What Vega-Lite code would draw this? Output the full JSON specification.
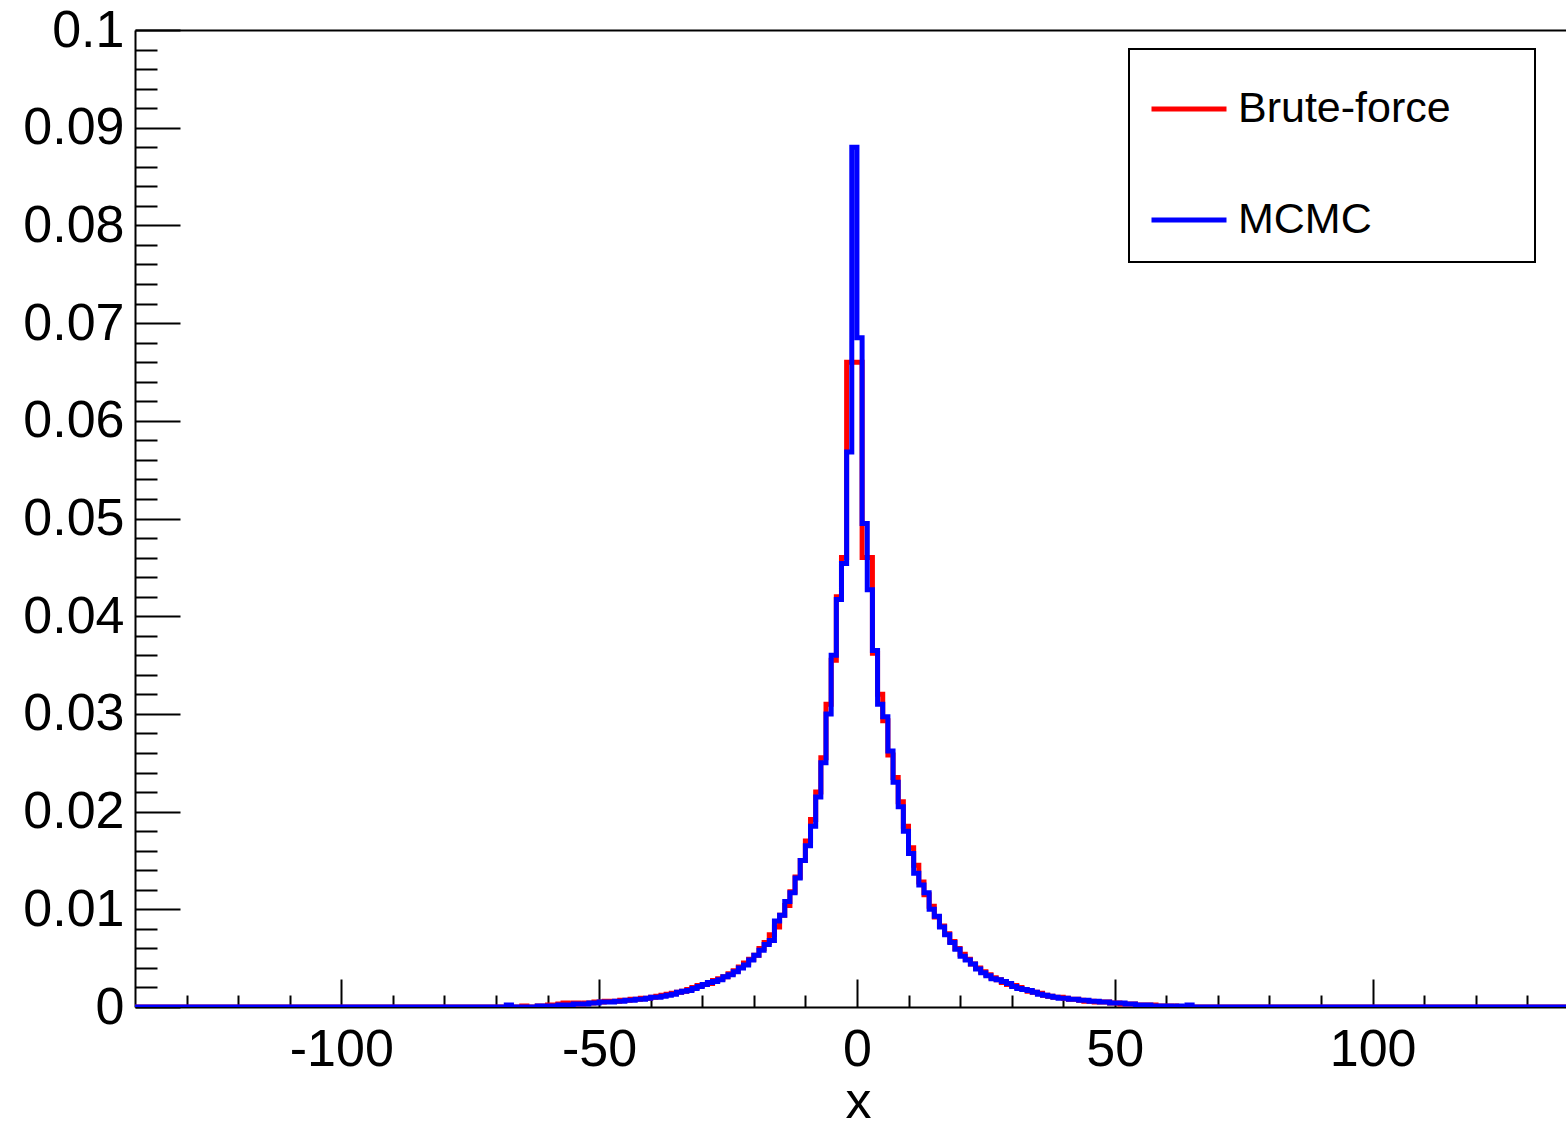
{
  "$schema": "https://vega.github.io/schema/vega-lite/v6.json",
  "width": 1431,
  "height": 977,
  "autosize": "none",
  "padding": {"left": 135, "top": 30, "right": 0, "bottom": 118},
  "background": "white",
  "config": {"view": {"stroke": null}, "font": "Liberation Sans", "legend": {"strokeWidth": 2}},
  "datasets": {
    "bf": [
      {"x": -140, "v": 0}, {"x": -70, "v": 0}, {"x": -65, "v": 0.0001}, {"x": -64, "v": 0}, {"x": -62, "v": 0.0001}, {"x": -61, "v": 0.0001},
      {"x": -60, "v": 0.0002}, {"x": -59, "v": 0.0002}, {"x": -58, "v": 0.0003}, {"x": -57, "v": 0.0004}, {"x": -56, "v": 0.0003},
      {"x": -55, "v": 0.0004}, {"x": -54, "v": 0.0003}, {"x": -53, "v": 0.0004}, {"x": -52, "v": 0.0004}, {"x": -51, "v": 0.0005},
      {"x": -50, "v": 0.0005}, {"x": -49, "v": 0.0006}, {"x": -48, "v": 0.0006}, {"x": -47, "v": 0.0006}, {"x": -46, "v": 0.0007},
      {"x": -45, "v": 0.0007}, {"x": -44, "v": 0.0008}, {"x": -43, "v": 0.0008}, {"x": -42, "v": 0.0009}, {"x": -41, "v": 0.0009},
      {"x": -40, "v": 0.0010}, {"x": -39, "v": 0.0011}, {"x": -38, "v": 0.0012}, {"x": -37, "v": 0.0013}, {"x": -36, "v": 0.0014},
      {"x": -35, "v": 0.0015}, {"x": -34, "v": 0.0016}, {"x": -33, "v": 0.0018}, {"x": -32, "v": 0.0020}, {"x": -31, "v": 0.0022},
      {"x": -30, "v": 0.0023}, {"x": -29, "v": 0.0024}, {"x": -28, "v": 0.0027}, {"x": -27, "v": 0.0029}, {"x": -26, "v": 0.0031},
      {"x": -25, "v": 0.0034}, {"x": -24, "v": 0.0037}, {"x": -23, "v": 0.0041}, {"x": -22, "v": 0.0045}, {"x": -21, "v": 0.0049},
      {"x": -20, "v": 0.0053}, {"x": -19, "v": 0.0060}, {"x": -18, "v": 0.0066}, {"x": -17, "v": 0.0074}, {"x": -16, "v": 0.0082},
      {"x": -15, "v": 0.0094}, {"x": -14, "v": 0.0104}, {"x": -13, "v": 0.0118}, {"x": -12, "v": 0.0133}, {"x": -11, "v": 0.0150},
      {"x": -10, "v": 0.0170}, {"x": -9, "v": 0.0192}, {"x": -8, "v": 0.0220}, {"x": -7, "v": 0.0255}, {"x": -6, "v": 0.0310},
      {"x": -5, "v": 0.0355}, {"x": -4, "v": 0.0420}, {"x": -3, "v": 0.0460}, {"x": -2, "v": 0.0660}, {"x": -1, "v": 0.0660},
      {"x": 0, "v": 0.0660}, {"x": 1, "v": 0.0460}, {"x": 2, "v": 0.0460}, {"x": 3, "v": 0.0362}, {"x": 4, "v": 0.0320},
      {"x": 5, "v": 0.0293}, {"x": 6, "v": 0.0258}, {"x": 7, "v": 0.0235}, {"x": 8, "v": 0.0210}, {"x": 9, "v": 0.0185},
      {"x": 10, "v": 0.0163}, {"x": 11, "v": 0.0145}, {"x": 12, "v": 0.0128}, {"x": 13, "v": 0.0115}, {"x": 14, "v": 0.0103},
      {"x": 15, "v": 0.0092}, {"x": 16, "v": 0.0083}, {"x": 17, "v": 0.0075}, {"x": 18, "v": 0.0067}, {"x": 19, "v": 0.0060},
      {"x": 20, "v": 0.0054}, {"x": 21, "v": 0.0049}, {"x": 22, "v": 0.0044}, {"x": 23, "v": 0.0040}, {"x": 24, "v": 0.0036},
      {"x": 25, "v": 0.0033}, {"x": 26, "v": 0.0030}, {"x": 27, "v": 0.0028}, {"x": 28, "v": 0.0025}, {"x": 29, "v": 0.0023},
      {"x": 30, "v": 0.0022}, {"x": 31, "v": 0.0020}, {"x": 32, "v": 0.0018}, {"x": 33, "v": 0.0016}, {"x": 34, "v": 0.0015},
      {"x": 35, "v": 0.0014}, {"x": 36, "v": 0.0012}, {"x": 37, "v": 0.0011}, {"x": 38, "v": 0.0010}, {"x": 39, "v": 0.0010},
      {"x": 40, "v": 0.0009}, {"x": 41, "v": 0.0008}, {"x": 42, "v": 0.0008}, {"x": 43, "v": 0.0007}, {"x": 44, "v": 0.0006},
      {"x": 45, "v": 0.0006}, {"x": 46, "v": 0.0005}, {"x": 47, "v": 0.0005}, {"x": 48, "v": 0.0005}, {"x": 49, "v": 0.0004},
      {"x": 50, "v": 0.0004}, {"x": 51, "v": 0.0003}, {"x": 52, "v": 0.0003}, {"x": 53, "v": 0.0003}, {"x": 54, "v": 0.0002},
      {"x": 55, "v": 0.0002}, {"x": 56, "v": 0.0002}, {"x": 57, "v": 0.0002}, {"x": 58, "v": 0.0001}, {"x": 59, "v": 0.0001},
      {"x": 60, "v": 0.0001}, {"x": 61, "v": 0.0001}, {"x": 62, "v": 0}, {"x": 140, "v": 0}
    ],
    "mc": [
      {"x": -140, "v": 0}, {"x": -70, "v": 0}, {"x": -68, "v": 0.0002}, {"x": -67, "v": 0}, {"x": -62, "v": 0.0001}, {"x": -61, "v": 0.0001},
      {"x": -60, "v": 0.0001}, {"x": -59, "v": 0.0001}, {"x": -58, "v": 0.0002}, {"x": -57, "v": 0.0002}, {"x": -56, "v": 0.0002},
      {"x": -55, "v": 0.0003}, {"x": -54, "v": 0.0003}, {"x": -53, "v": 0.0003}, {"x": -52, "v": 0.0004}, {"x": -51, "v": 0.0004},
      {"x": -50, "v": 0.0005}, {"x": -49, "v": 0.0005}, {"x": -48, "v": 0.0005}, {"x": -47, "v": 0.0006}, {"x": -46, "v": 0.0006},
      {"x": -45, "v": 0.0007}, {"x": -44, "v": 0.0007}, {"x": -43, "v": 0.0008}, {"x": -42, "v": 0.0008}, {"x": -41, "v": 0.0009},
      {"x": -40, "v": 0.0010}, {"x": -39, "v": 0.0010}, {"x": -38, "v": 0.0011}, {"x": -37, "v": 0.0012}, {"x": -36, "v": 0.0013},
      {"x": -35, "v": 0.0015}, {"x": -34, "v": 0.0016}, {"x": -33, "v": 0.0017}, {"x": -32, "v": 0.0019}, {"x": -31, "v": 0.0021},
      {"x": -30, "v": 0.0023}, {"x": -29, "v": 0.0025}, {"x": -28, "v": 0.0026}, {"x": -27, "v": 0.0028}, {"x": -26, "v": 0.0031},
      {"x": -25, "v": 0.0033}, {"x": -24, "v": 0.0036}, {"x": -23, "v": 0.0040}, {"x": -22, "v": 0.0043}, {"x": -21, "v": 0.0048},
      {"x": -20, "v": 0.0053}, {"x": -19, "v": 0.0058}, {"x": -18, "v": 0.0064}, {"x": -17, "v": 0.0068}, {"x": -16, "v": 0.0088},
      {"x": -15, "v": 0.0094}, {"x": -14, "v": 0.0108}, {"x": -13, "v": 0.0117}, {"x": -12, "v": 0.0132}, {"x": -11, "v": 0.0150},
      {"x": -10, "v": 0.0165}, {"x": -9, "v": 0.0185}, {"x": -8, "v": 0.0215}, {"x": -7, "v": 0.0250}, {"x": -6, "v": 0.0300},
      {"x": -5, "v": 0.0360}, {"x": -4, "v": 0.0417}, {"x": -3, "v": 0.0454}, {"x": -2, "v": 0.0568}, {"x": -1, "v": 0.0880},
      {"x": 0, "v": 0.0685}, {"x": 1, "v": 0.0495}, {"x": 2, "v": 0.0427}, {"x": 3, "v": 0.0365}, {"x": 4, "v": 0.0310},
      {"x": 5, "v": 0.0297}, {"x": 6, "v": 0.0262}, {"x": 7, "v": 0.0230}, {"x": 8, "v": 0.0205}, {"x": 9, "v": 0.0180},
      {"x": 10, "v": 0.0157}, {"x": 11, "v": 0.0137}, {"x": 12, "v": 0.0125}, {"x": 13, "v": 0.0117}, {"x": 14, "v": 0.0100},
      {"x": 15, "v": 0.0093}, {"x": 16, "v": 0.0082}, {"x": 17, "v": 0.0074}, {"x": 18, "v": 0.0066}, {"x": 19, "v": 0.0059},
      {"x": 20, "v": 0.0052}, {"x": 21, "v": 0.0048}, {"x": 22, "v": 0.0044}, {"x": 23, "v": 0.0039}, {"x": 24, "v": 0.0035},
      {"x": 25, "v": 0.0032}, {"x": 26, "v": 0.0029}, {"x": 27, "v": 0.0028}, {"x": 28, "v": 0.0026}, {"x": 29, "v": 0.0024},
      {"x": 30, "v": 0.0021}, {"x": 31, "v": 0.0019}, {"x": 32, "v": 0.0018}, {"x": 33, "v": 0.0017}, {"x": 34, "v": 0.0015},
      {"x": 35, "v": 0.0013}, {"x": 36, "v": 0.0012}, {"x": 37, "v": 0.0011}, {"x": 38, "v": 0.0010}, {"x": 39, "v": 0.0009},
      {"x": 40, "v": 0.0009}, {"x": 41, "v": 0.0008}, {"x": 42, "v": 0.0008}, {"x": 43, "v": 0.0007}, {"x": 44, "v": 0.0007},
      {"x": 45, "v": 0.0006}, {"x": 46, "v": 0.0006}, {"x": 47, "v": 0.0005}, {"x": 48, "v": 0.0005}, {"x": 49, "v": 0.0004},
      {"x": 50, "v": 0.0004}, {"x": 51, "v": 0.0004}, {"x": 52, "v": 0.0003}, {"x": 53, "v": 0.0003}, {"x": 54, "v": 0.0002},
      {"x": 55, "v": 0.0002}, {"x": 56, "v": 0.0002}, {"x": 57, "v": 0.0001}, {"x": 58, "v": 0.0001}, {"x": 59, "v": 0.0001},
      {"x": 60, "v": 0.0001}, {"x": 61, "v": 0}, {"x": 62, "v": 0.0001}, {"x": 63, "v": 0}, {"x": 64, "v": 0.0002}, {"x": 65, "v": 0},
      {"x": 140, "v": 0}
    ]
  },
  "resolve": {"axis": {"x": "independent", "y": "independent"}},
  "layer": [
    {
      "data": {"name": "bf"},
      "mark": {"type": "line", "interpolate": "step-after", "strokeWidth": 5, "clip": true},
      "encoding": {
        "x": {
          "field": "x", "type": "quantitative",
          "scale": {"domain": [-140, 137.5], "nice": false, "zero": false},
          "axis": {
            "orient": "bottom",
            "values": [-130, -120, -110, -100, -90, -80, -70, -60, -50, -40, -30, -20, -10, 0, 10, 20, 30, 40, 50, 60, 70, 80, 90, 100, 110, 120, 130],
            "tickSize": {"condition": {"test": "datum.value % 50 === 0", "value": -28}, "value": -12},
            "labelExpr": "datum.value % 50 === 0 ? '' + datum.value : ''",
            "labelFont": "Liberation Sans", "labelFontSize": 52, "labelColor": "black",
            "labelPadding": 45, "labelFlush": false, "labelOverlap": false,
            "tickColor": "black", "tickWidth": 2, "domainColor": "black", "domainWidth": 2, "grid": false,
            "title": "x", "titleFont": "Liberation Sans", "titleFontSize": 52, "titleFontWeight": "normal", "titleColor": "black",
            "titleX": 723, "titleY": 110, "titleBaseline": "alphabetic", "titleAlign": "center"
          }
        },
        "y": {
          "field": "v", "type": "quantitative",
          "scale": {"domain": [0, 0.1], "nice": false},
          "axis": {
            "values": [0, 0.002, 0.004, 0.006, 0.008, 0.01, 0.012, 0.014, 0.016, 0.018, 0.02, 0.022, 0.024, 0.026, 0.028, 0.03, 0.032, 0.034, 0.036, 0.038, 0.04, 0.042, 0.044, 0.046, 0.048, 0.05, 0.052, 0.054, 0.056, 0.058, 0.06, 0.062, 0.064, 0.066, 0.068, 0.07, 0.072, 0.074, 0.076, 0.078, 0.08, 0.082, 0.084, 0.086, 0.088, 0.09, 0.092, 0.094, 0.096, 0.098, 0.1],
            "tickSize": {"condition": {"test": "round(datum.value * 1000) % 10 === 0", "value": -45}, "value": -22},
            "labelExpr": "round(datum.value * 1000) % 10 === 0 ? format(datum.value, '.2~f') : ''",
            "labelFont": "Liberation Sans", "labelFontSize": 52, "labelColor": "black",
            "labelPadding": 56, "labelFlush": false, "labelOverlap": false,
            "tickColor": "black", "tickWidth": 2, "domainColor": "black", "domainWidth": 2, "grid": false,
            "title": null
          }
        },
        "color": {
          "datum": "Brute-force", "type": "nominal",
          "scale": {"domain": ["Brute-force", "MCMC"], "range": ["#ff0000", "#0000ff"]},
          "legend": {
            "orient": "none", "legendX": 994, "legendY": 19, "title": null,
            "symbolType": "stroke", "symbolSize": 5625, "symbolStrokeWidth": 5,
            "labelFont": "Liberation Sans", "labelFontSize": 43, "labelColor": "black", "labelOffset": 9, "labelLimit": 600,
            "labelExpr": "datum.label + '\u2800\u2800'",
            "rowPadding": 49, "padding": 20, "strokeColor": "black", "fillColor": "white"
          }
        }
      }
    },
    {
      "data": {"name": "mc"},
      "mark": {"type": "line", "interpolate": "step-after", "strokeWidth": 5, "clip": true},
      "encoding": {
        "x": {
          "field": "x", "type": "quantitative",
          "axis": {"orient": "top", "ticks": false, "labels": false, "title": null, "grid": false, "domainColor": "black", "domainWidth": 2}
        },
        "y": {"field": "v", "type": "quantitative", "axis": null},
        "color": {"datum": "MCMC", "type": "nominal"}
      }
    }
  ]
}
